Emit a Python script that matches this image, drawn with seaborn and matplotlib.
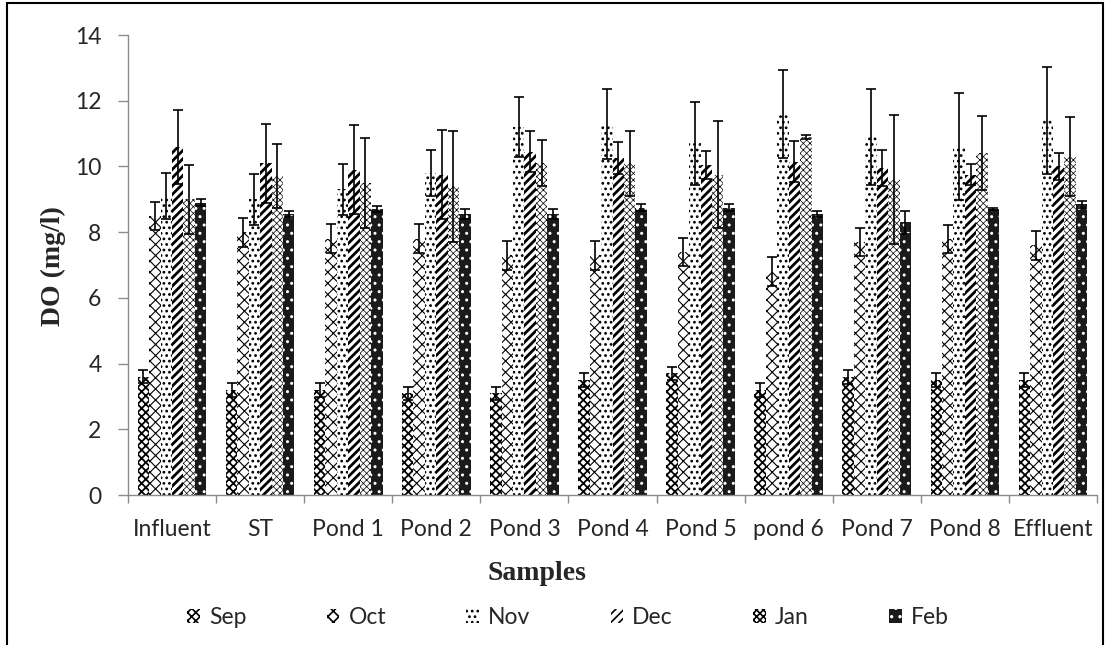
import numpy as np
import pandas as pd
import matplotlib
matplotlib.use("Agg")
import matplotlib.pyplot as plt
import seaborn as sns
from matplotlib.patches import Rectangle
from matplotlib.ticker import FixedLocator

samples = ["Influent", "ST", "Pond 1", "Pond 2", "Pond 3", "Pond 4",
           "Pond 5", "pond 6", "Pond 7", "Pond 8", "Effluent"]
months = ["Sep", "Oct", "Nov", "Dec", "Jan", "Feb"]

sep = [3.6, 3.2, 3.2, 3.1, 3.1, 3.5, 3.7, 3.2, 3.6, 3.5, 3.5]
sep_err = [0.2, 0.22, 0.22, 0.2, 0.2, 0.2, 0.21, 0.22, 0.21, 0.21, 0.21]
oct_ = [8.5, 8.0, 7.8, 7.8, 7.3, 7.3, 7.4, 6.8, 7.7, 7.8, 7.6]
oct_err = [0.43, 0.44, 0.44, 0.44, 0.44, 0.44, 0.43, 0.44, 0.44, 0.43, 0.44]
nov = [9.1, 9.0, 9.3, 9.8, 11.2, 11.3, 10.7, 11.6, 10.9, 10.6, 11.4]
nov_err = [0.71, 0.77, 0.77, 0.7, 0.91, 1.06, 1.27, 1.35, 1.47, 1.62, 1.62]
dec = [10.6, 10.1, 9.9, 9.75, 10.45, 10.25, 10.05, 10.15, 9.95, 9.75, 10.0]
dec_err = [1.12, 1.2, 1.35, 1.35, 0.63, 0.48, 0.42, 0.63, 0.55, 0.33, 0.42]
jan = [9.0, 9.7, 9.5, 9.4, 10.1, 10.1, 9.75, 10.9, 9.6, 10.4, 10.3]
jan_err = [1.05, 0.98, 1.36, 1.69, 0.7, 0.99, 1.63, 0.07, 1.97, 1.13, 1.19]
feb = [8.9, 8.55, 8.7, 8.55, 8.55, 8.75, 8.75, 8.55, 8.3, 8.7, 8.85]
feb_err = [0.1, 0.1, 0.1, 0.15, 0.15, 0.1, 0.1, 0.08, 0.35, 0.03, 0.1]

values = [sep, oct_, nov, dec, jan, feb]
errors = [sep_err, oct_err, nov_err, dec_err, jan_err, feb_err]

rows = []
for m, vals, errs in zip(months, values, errors):
    for s, v, e in zip(samples, vals, errs):
        rows.append({"Samples": s, "Month": m, "DO": v, "err": e})
df = pd.DataFrame(rows)

sns.set_style("white")
plt.rcParams["font.family"] = ["Lato", "DejaVu Sans"]
plt.rcParams["hatch.linewidth"] = 1.2

fig = plt.figure(figsize=(11.06, 6.45), dpi=100)
ax = fig.add_axes([128 / 1106, 1 - 495 / 645, (1097 - 128) / 1106, (495 - 35) / 645])

sns.barplot(data=df, x="Samples", y="DO", hue="Month", order=samples,
            hue_order=months, errorbar=None, width=0.78, ax=ax,
            palette=["white"] * 6, legend=True)

styles = {
    "Sep": dict(face="white", edge="black", hatch="xxxx", lw=1.3),
    "Oct": dict(face="white", edge="black", hatch="xxx", lw=0.8),
    "Nov": dict(face="white", edge="black", hatch="...", lw=1.2),
    "Dec": dict(face="white", edge="black", hatch="////", lw=2.0),
    "Jan": dict(face="white", edge="black", hatch="xxxxx", lw=0.5),
    "Feb": dict(face="#1a1a1a", edge="white", hatch="..", lw=1.0),
}


def style_patch(p, st):
    p.set_facecolor(st["face"])
    p.set_edgecolor(st["edge"])
    p.set_hatch(st["hatch"])
    p.set_linewidth(0)
    try:
        p.set_hatch_linewidth(st["lw"])
    except Exception:
        pass


for cont, m, errs in zip(ax.containers, months, errors):
    st = styles[m]
    xs = []
    ys = []
    for p in cont.patches:
        style_patch(p, st)
        xs.append(p.get_x() + p.get_width() / 2)
        ys.append(p.get_height())
    ax.errorbar(xs, ys, yerr=errs, fmt="none", ecolor="black",
                elinewidth=1.2, capsize=3.8, capthick=1.2, zorder=5)

# legend
handles, labels = ax.get_legend_handles_labels()
for h, m in zip(handles, labels):
    style_patch(h, styles[m])
ax.legend_.remove()
fig.legend(handles, labels, loc="center", bbox_to_anchor=(568 / 1106, 1 - 618 / 645),
           ncol=6, frameon=False, fontsize=16.5, handlelength=0.55,
           handleheight=0.55, handletextpad=0.4, columnspacing=3.5)

ax.set_ylim(0, 14)
ax.set_yticks(np.arange(0, 15, 2))
ax.set_xlim(-0.5, len(samples) - 0.5)
ax.set_xlabel("")
ax.set_ylabel("")

grey = "#8c8c8c"
for side in ["top", "right"]:
    ax.spines[side].set_visible(False)
for side in ["left", "bottom"]:
    ax.spines[side].set_color(grey)
    ax.spines[side].set_linewidth(1)

ax.tick_params(axis="y", which="major", direction="out", length=7, width=1,
               color=grey, pad=12, labelsize=16.5, left=True)
ax.tick_params(axis="x", which="major", length=0, pad=17, labelsize=16.5)
ax.xaxis.set_minor_locator(FixedLocator(np.arange(-0.5, len(samples), 1.0)))
ax.tick_params(axis="x", which="minor", direction="out", length=6, width=1,
               color=grey, bottom=True)

fig.text(537 / 1106, 1 - 573 / 645, "Samples", ha="center", va="center",
         fontsize=20, fontweight="bold", family="Liberation Serif")
fig.text(53 / 1106, 1 - 266 / 645, "DO (mg/l)", ha="center", va="center",
         rotation=90, fontsize=20, fontweight="bold", family="Liberation Serif")

# outer frame
fig.patches.append(Rectangle((7 / 1106, -0.02), (1103 - 7) / 1106, 1.02 - 3 / 645,
                             transform=fig.transFigure, fill=False,
                             edgecolor="black", linewidth=1.5, clip_on=False))

fig.savefig("out.png", dpi=100)
